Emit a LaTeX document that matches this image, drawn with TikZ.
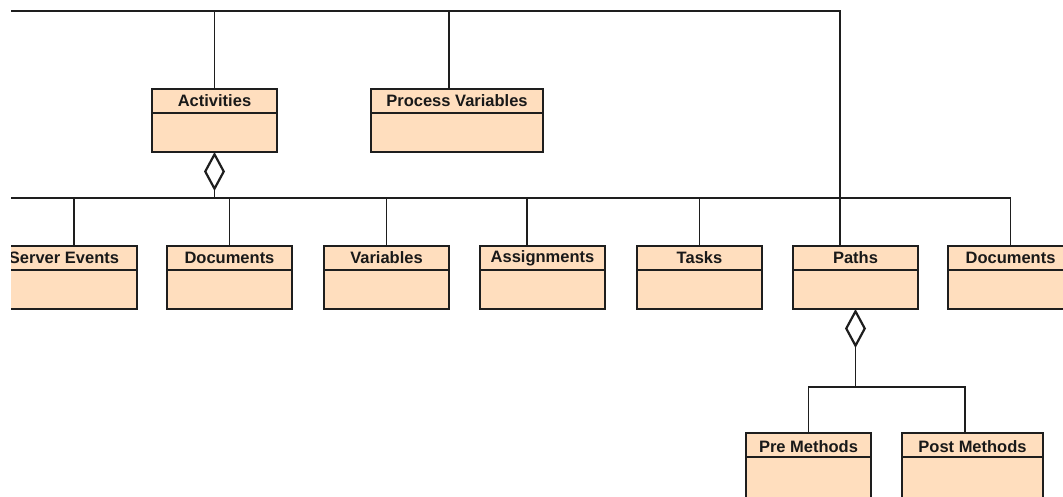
\documentclass[tikz,border=0pt]{standalone}
\usepackage{fontspec}
\setmainfont{Liberation Sans}
\usetikzlibrary{arrows.meta,calc}
\definecolor{classfill}{RGB}{255,222,190}
\definecolor{ink}{RGB}{30,30,30}
\begin{document}
\begin{tikzpicture}[x=1pt,y=-1pt,
  umlclass/.style={draw=ink, fill=classfill, line width=1.3pt, rectangle,
    inner sep=0pt, outer sep=0pt, anchor=north west, minimum height=63pt,
    path picture={\draw[ink, line width=1.3pt]
      ([yshift=-24pt]path picture bounding box.north west) --
      ([yshift=-24pt]path picture bounding box.north east);}},
  cname/.style={font=\fontsize{16.5}{18}\selectfont\bfseries, text=black!90, inner sep=0pt},
  hdr/.style={label={[cname,yshift=19.5pt]center:#1}},
  link/.style={draw=ink, line width=1.3pt},
  agg/.style={link, {Diamond[open, length=39pt, width=21pt, line width=2.2pt]}-}
]
\useasboundingbox (0,0) rectangle (1063,496);
\fill[white] (0,0) rectangle (1063,496);

\begin{scope}
\clip (11,0) rectangle (1063,496);

% upper level
\node[umlclass, minimum width=125pt, hdr=Activities] (act) at (152,89) {};
\node[umlclass, minimum width=172pt, hdr=Process Variables] (pv) at (371,89) {};

% children of Activities
\node[umlclass, minimum width=146pt, hdr=Server Events] (se) at (-9,246) {};
\node[umlclass, minimum width=125pt, hdr=Documents] (docA) at (167,246) {};
\node[umlclass, minimum width=125pt, hdr=Variables] (vars) at (324,246) {};
\node[umlclass, minimum width=125pt, hdr=Assignments] (asg) at (480,246) {};
\node[umlclass, minimum width=125pt, hdr=Tasks] (tasks) at (637,246) {};
\node[umlclass, minimum width=125pt, hdr=Paths] (paths) at (793,246) {};
\node[umlclass, minimum width=125pt, hdr=Documents] (docB) at (948,246) {};

% children of Paths
\node[umlclass, minimum width=125pt, minimum height=66pt, hdr=Pre Methods] (pre) at (746,433) {};
\node[umlclass, minimum width=141pt, minimum height=66pt, hdr=Post Methods] (post) at (902,433) {};

% bus lines
\coordinate (topbus) at (0,11);
\coordinate (midbus) at (0,198);

% connection points away from box centres
\coordinate (pvT) at ($(pv.north west)+(78,0)$);
\coordinate (seT) at ($(se.north west)+(83,0)$);
\coordinate (asgT) at ($(asg.north west)+(47,0)$);
\coordinate (pathsT) at ($(paths.north west)+(47,0)$);
\coordinate (postT) at ($(post.north west)+(63,0)$);

% top level bus
\draw[link] (topbus) -| (pathsT);
\draw[link] (act.north) -- (act.north |- topbus);
\draw[link] (pvT) -- (pvT |- topbus);

% aggregation under Activities
\draw[agg] (act.south) -- (act.south |- midbus);
\draw[link] (midbus) -| (docB.north);
\draw[link] (seT) -- (seT |- midbus);
\draw[link] (docA.north) -- (docA.north |- midbus);
\draw[link] (vars.north) -- (vars.north |- midbus);
\draw[link] (asgT) -- (asgT |- midbus);
\draw[link] (tasks.north) -- (tasks.north |- midbus);

% aggregation under Paths
\coordinate (pj) at ($(paths.south)+(0,78)$);
\draw[agg] (paths.south) -- (pj);
\draw[link] (pre.north) |- (pj) -| (postT);
\end{scope}
\end{tikzpicture}
\end{document}
